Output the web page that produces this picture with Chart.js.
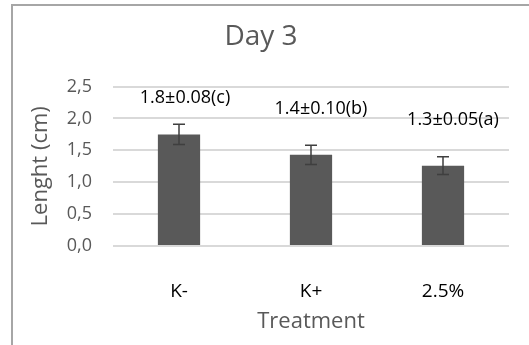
<!DOCTYPE html>
<html>
<head>
<meta charset="utf-8">
<title>Day 3</title>
<script src="https://cdn.jsdelivr.net/npm/chart.js@4/dist/chart.umd.min.js"></script>
<style>
  html, body { margin: 0; padding: 0; background: #ffffff; }
  #wrap { width: 529px; height: 345px; }
</style>
</head>
<body>
<div id="wrap"><canvas id="chart" width="529" height="345"></canvas></div>
<script>
// Shoot length on day 3 per treatment group
const categories = ['K-', 'K+', '2.5%'];
const meanLength = [1.75, 1.43, 1.26];      // cm
const errorSpan = [0.16, 0.15, 0.14];       // half-height of the drawn error bars, cm
const statedSE = [0.08, 0.10, 0.05];        // ± value quoted in the labels
const groupLetters = ['c', 'b', 'a'];       // significance groups
const yTickValues = [0, 0.5, 1.0, 1.5, 2.0, 2.5];

const FONT = '"Open Sans", "DejaVu Sans", sans-serif';
const GREY_TEXT = '#595959';

const valueLabels = meanLength.map((m, i) =>
  m.toFixed(1) + '\u00B1' + statedSE[i].toFixed(2) + '(' + groupLetters[i] + ')');

// White page with the frame lines on the left and top
const framePlugin = {
  id: 'frame',
  beforeDraw(chart) {
    const ctx = chart.ctx;
    ctx.save();
    ctx.fillStyle = '#ffffff';
    ctx.fillRect(0, 0, chart.width, chart.height);
    ctx.fillStyle = '#a6a6a6';
    ctx.fillRect(11, 4, 2, chart.height - 4);
    ctx.fillRect(11, 4, chart.width - 11, 2);
    ctx.restore();
  }
};

// Vertical error bars with caps
const errorBarPlugin = {
  id: 'errorBars',
  afterDatasetsDraw(chart, args, opts) {
    const ctx = chart.ctx;
    const y = chart.scales.y;
    const meta = chart.getDatasetMeta(0);
    ctx.save();
    ctx.strokeStyle = opts.color;
    ctx.lineWidth = opts.lineWidth;
    meta.data.forEach((bar, i) => {
      const top = y.getPixelForValue(meanLength[i] + errorSpan[i]);
      const bottom = y.getPixelForValue(meanLength[i] - errorSpan[i]);
      const x = bar.x;
      ctx.beginPath();
      ctx.moveTo(x, top);
      ctx.lineTo(x, bottom);
      ctx.moveTo(x - opts.cap, top);
      ctx.lineTo(x + opts.cap, top);
      ctx.moveTo(x - opts.cap, bottom);
      ctx.lineTo(x + opts.cap, bottom);
      ctx.stroke();
    });
    ctx.restore();
  }
};

// Mean ± SE (group) text above each bar
const valueLabelPlugin = {
  id: 'valueLabels',
  afterDatasetsDraw(chart, args, opts) {
    const ctx = chart.ctx;
    const y = chart.scales.y;
    const meta = chart.getDatasetMeta(0);
    ctx.save();
    ctx.font = opts.font;
    ctx.fillStyle = opts.color;
    ctx.textAlign = 'center';
    ctx.textBaseline = 'middle';
    meta.data.forEach((bar, i) => {
      const p = opts.placement[i];
      ctx.fillText(valueLabels[i], bar.x + p.dx, y.getPixelForValue(p.at));
    });
    ctx.restore();
  }
};

new Chart(document.getElementById('chart'), {
  type: 'bar',
  data: {
    labels: categories,
    datasets: [{
      label: 'Lenght (cm)',
      data: meanLength,
      backgroundColor: '#595959',
      borderWidth: 0,
      barPercentage: 0.32,
      categoryPercentage: 1.0
    }]
  },
  options: {
    responsive: false,
    animation: false,
    devicePixelRatio: 1,
    layout: { padding: { left: 13, right: 20, top: 0, bottom: 0 } },
    plugins: {
      legend: { display: false },
      tooltip: { enabled: false },
      title: {
        display: true,
        text: 'Day 3',
        color: GREY_TEXT,
        font: { family: FONT, size: 28, weight: 'normal' },
        padding: { top: 20, bottom: 33 }
      },
      errorBars: { color: '#3f3f3f', lineWidth: 1.5, cap: 6 },
      valueLabels: {
        font: '18px ' + FONT,
        color: '#000000',
        placement: [
          { dx: 6, at: 2.32 },
          { dx: 10, at: 2.15 },
          { dx: 10, at: 1.98 }
        ]
      }
    },
    scales: {
      x: {
        grid: { display: false },
        border: { display: false },
        ticks: {
          color: '#000000',
          font: { family: FONT, size: 19 },
          padding: 26
        },
        title: {
          display: true,
          text: 'Treatment',
          color: GREY_TEXT,
          font: { family: FONT, size: 22 },
          padding: { top: 0, bottom: 10 }
        },
        afterFit(scale) { scale.height = 99; }
      },
      y: {
        min: 0,
        max: 2.5,
        afterBuildTicks(scale) {
          scale.ticks = yTickValues.map(v => ({ value: v }));
        },
        grid: {
          color: '#d9d9d9',
          lineWidth: 2,
          drawTicks: false
        },
        border: { display: false },
        ticks: {
          color: GREY_TEXT,
          font: { family: FONT, size: 18 },
          padding: 21,
          callback: v => Number(v).toFixed(1).replace('.', ',')
        },
        title: {
          display: true,
          text: 'Lenght (cm)',
          color: GREY_TEXT,
          font: { family: FONT, size: 22 },
          padding: { top: 15, bottom: 0 }
        },
        afterFit(scale) { scale.width = 100; }
      }
    }
  },
  plugins: [framePlugin, errorBarPlugin, valueLabelPlugin]
});
</script>
</body>
</html>
